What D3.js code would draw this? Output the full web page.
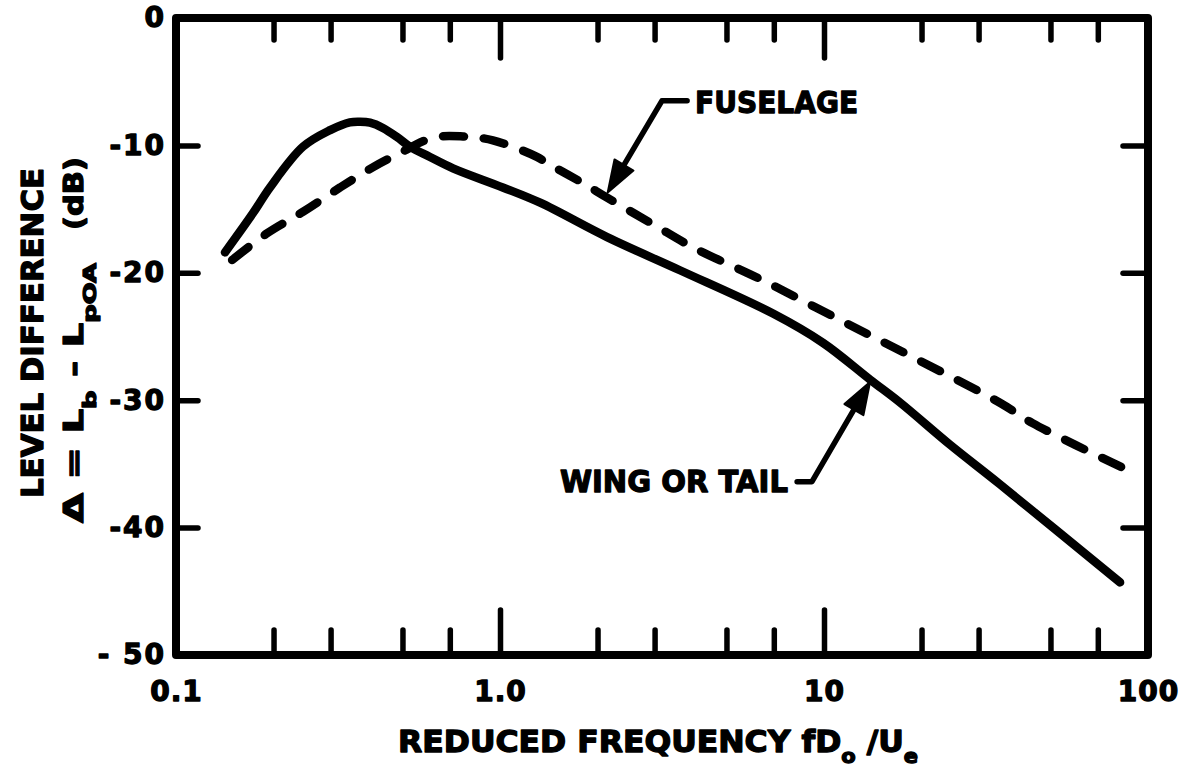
<!DOCTYPE html>
<html>
<head>
<meta charset="utf-8">
<script src="https://cdn.jsdelivr.net/npm/d3@7"></script>
<style>
  html, body { margin: 0; padding: 0; background: #fff; }
  svg { display: block; }
  text { font-family: "DejaVu Sans", sans-serif; font-weight: bold; fill: #000; stroke: #000; stroke-width: 1.3px; stroke-linejoin: round; }
</style>
</head>
<body>
<svg id="chart" width="1182" height="767"></svg>
<script>
// Level difference spectra versus reduced frequency fD0/Ue
const wingFreq  = [0.1416, 0.173, 0.195, 0.2466, 0.299, 0.344, 0.370, 0.397, 0.435, 0.481, 0.527, 0.608, 0.716, 1.02, 1.33, 2.14, 3.59, 6.96, 9.93, 13.9, 17.2, 24.5, 34.9, 82];
const wingLevel = [-18.4, -15.3, -13.3, -10.1, -8.8, -8.19, -8.14, -8.22, -8.63, -9.34, -10.1, -10.91, -11.8, -13.3, -14.5, -17.2, -19.8, -23.2, -25.5, -28.4, -30.2, -33.5, -36.6, -44.3];

const fuselageFreq  = [0.149, 0.191, 0.247, 0.321, 0.406, 0.491, 0.621, 0.769, 0.951, 1.30, 1.40, 1.80, 2.14, 2.97, 3.94, 6.48, 11.2, 19.4, 34.9, 44, 86.8];
const fuselageLevel = [-19.0, -16.9, -15.2, -13.3, -11.7, -10.6, -9.4, -9.3, -9.6, -10.9, -11.4, -12.95, -14.1, -16.2, -18.0, -20.6, -23.7, -26.8, -30.2, -31.8, -35.5];

// Axis ticks
const xTickValues = [0.1, 1, 10, 100];
const xTickLabels = ["0.1", "1.0", "10", "100"];
const xMajorTicks = [1, 10];
const xMinorTicks = [0.2, 0.3, 0.5, 0.7, 2, 3, 5, 7, 20, 30, 50, 70];
const yTickValues = [0, -10, -20, -30, -40, -50];
const yTickLabels = ["0", "-10", "-20", "-30", "-40", "- 50"];
const yInnerTicks = [-10, -20, -30, -40];

// Callout labels: arrow tip, elbow and stub end, text anchor (all in data units)
const calloutLabels = ["FUSELAGE", "WING OR TAIL"];
const calloutTips   = [[2.15, -13.7], [13.87, -28.57]];
const calloutElbows = [[3.16, -6.5], [9.18, -36.4]];
const calloutStubs  = [[3.78, -6.5], [8.26, -36.4]];
const calloutText   = [[4.0, -7.46], [7.74, -37.2]];

const svg = d3.select("#chart");

const x = d3.scaleLog().domain([0.1, 100]).range([176, 1148]);
const y = d3.scaleLinear().domain([0, -50]).range([18, 655]);

function fit(sel, len) {
  sel.attr("textLength", len).attr("lengthAdjust", "spacingAndGlyphs");
}
function styleTicks(g, w) {
  g.select(".domain").remove();
  g.selectAll(".tick line")
    .attr("stroke", "#000")
    .attr("stroke-width", w)
    .attr("stroke-linecap", "round");
  g.attr("font-family", null).attr("font-size", null);
}

// Frame
svg.append("rect")
  .attr("x", x(0.1)).attr("y", y(0))
  .attr("width", x(100) - x(0.1)).attr("height", y(-50) - y(0))
  .attr("fill", "none").attr("stroke", "#000")
  .attr("stroke-width", 8).attr("stroke-linejoin", "round");

// Inward ticks on all four sides
svg.append("g").attr("transform", `translate(0,${y(0)})`)
  .call(d3.axisTop(x).tickValues(xMinorTicks).tickSize(-22).tickFormat(""))
  .call(styleTicks, 5.5);
svg.append("g").attr("transform", `translate(0,${y(0)})`)
  .call(d3.axisTop(x).tickValues(xMajorTicks).tickSize(-40).tickFormat(""))
  .call(styleTicks, 5.5);
svg.append("g").attr("transform", `translate(0,${y(-50)})`)
  .call(d3.axisBottom(x).tickValues(xMinorTicks).tickSize(-25).tickFormat(""))
  .call(styleTicks, 5.5);
svg.append("g").attr("transform", `translate(0,${y(-50)})`)
  .call(d3.axisBottom(x).tickValues(xMajorTicks).tickSize(-45).tickFormat(""))
  .call(styleTicks, 5.5);
svg.append("g").attr("transform", `translate(${x(0.1)},0)`)
  .call(d3.axisLeft(y).tickValues(yInnerTicks).tickSize(-22).tickFormat(""))
  .call(styleTicks, 5.5);
svg.append("g").attr("transform", `translate(${x(100)},0)`)
  .call(d3.axisRight(y).tickValues(yInnerTicks).tickSize(-25).tickFormat(""))
  .call(styleTicks, 5.5);

// Tick labels
const xLab = svg.append("g").attr("transform", `translate(0,${y(-50)})`)
  .call(d3.axisBottom(x).tickValues(xTickValues).tickSize(0).tickPadding(26)
    .tickFormat((d, i) => xTickLabels[i]))
  .call(styleTicks, 0);
xLab.selectAll(".tick line").remove();
xLab.selectAll(".tick text").attr("font-size", 28).attr("fill", "#000").attr("letter-spacing", 1);

const yLab = svg.append("g").attr("transform", `translate(${x(0.1)},0)`)
  .call(d3.axisLeft(y).tickValues(yTickValues).tickSize(0).tickPadding(10)
    .tickFormat((d, i) => yTickLabels[i]))
  .call(styleTicks, 0);
yLab.selectAll(".tick line").remove();
yLab.selectAll(".tick text").attr("font-size", 28).attr("fill", "#000").attr("letter-spacing", 2);

// Curves
const line = d3.line().x(d => x(d[0])).y(d => y(d[1])).curve(d3.curveCatmullRom.alpha(0.5));

svg.append("path")
  .datum(d3.zip(fuselageFreq, fuselageLevel))
  .attr("d", line)
  .attr("fill", "none").attr("stroke", "#000")
  .attr("stroke-width", 8.5).attr("stroke-linecap", "round")
  .attr("stroke-dasharray", "21,20");

svg.append("path")
  .datum(d3.zip(wingFreq, wingLevel))
  .attr("d", line)
  .attr("fill", "none").attr("stroke", "#000")
  .attr("stroke-width", 8.5).attr("stroke-linecap", "round").attr("stroke-linejoin", "round");

// Callouts with arrowheads
const headLen = 32, headHalf = 11;
calloutLabels.forEach((label, i) => {
  const tip = [x(calloutTips[i][0]), y(calloutTips[i][1])];
  const elbow = [x(calloutElbows[i][0]), y(calloutElbows[i][1])];
  const stub = [x(calloutStubs[i][0]), y(calloutStubs[i][1])];
  const dx = tip[0] - elbow[0], dy = tip[1] - elbow[1];
  const L = Math.hypot(dx, dy), ux = dx / L, uy = dy / L;
  const base = [tip[0] - ux * headLen, tip[1] - uy * headLen];
  svg.append("path")
    .attr("d", d3.line()([stub, elbow, [base[0] + ux * 4, base[1] + uy * 4]]))
    .attr("fill", "none").attr("stroke", "#000")
    .attr("stroke-width", 5.5).attr("stroke-linecap", "round").attr("stroke-linejoin", "round");
  svg.append("path")
    .attr("d", d3.line()([tip,
      [base[0] - uy * headHalf, base[1] + ux * headHalf],
      [base[0] + uy * headHalf, base[1] - ux * headHalf]]) + "Z")
    .attr("fill", "#000").attr("stroke", "#000").attr("stroke-width", 2).attr("stroke-linejoin", "round");
  const t = svg.append("text")
    .attr("x", x(calloutText[i][0])).attr("y", y(calloutText[i][1]))
    .attr("text-anchor", i === 0 ? "start" : "end")
    .attr("font-size", 31)
    .text(label);
  fit(t, i === 0 ? 163 : 228);
});

// X axis title
const xt = svg.append("text").attr("x", 398).attr("y", 752).attr("font-size", 30);
xt.append("tspan").text("REDUCED FREQUENCY fD");
xt.append("tspan").attr("font-size", 20).attr("dy", 11).text("o");
xt.append("tspan").attr("dy", -11).text(" /U");
xt.append("tspan").attr("font-size", 20).attr("dy", 11).text("e");
fit(xt, 520);

// Y axis title, two lines
const yt1 = svg.append("text")
  .attr("transform", "translate(43,333) rotate(-90)")
  .attr("text-anchor", "middle").attr("font-size", 31)
  .text("LEVEL DIFFERENCE");
fit(yt1, 330);

const yt2 = svg.append("text")
  .attr("transform", "translate(83,523) rotate(-90)")
  .attr("font-size", 27);
yt2.append("tspan").text("\u0394 = L");
yt2.append("tspan").attr("font-size", 18).attr("dy", 13).text("b");
yt2.append("tspan").attr("dy", -13).text(" - L");
yt2.append("tspan").attr("font-size", 18).attr("dy", 13).text("pOA");
fit(yt2, 260);

const yt3 = svg.append("text")
  .attr("transform", "translate(83,230) rotate(-90)")
  .attr("font-size", 27).text("(dB)");
fit(yt3, 73);
</script>
</body>
</html>
